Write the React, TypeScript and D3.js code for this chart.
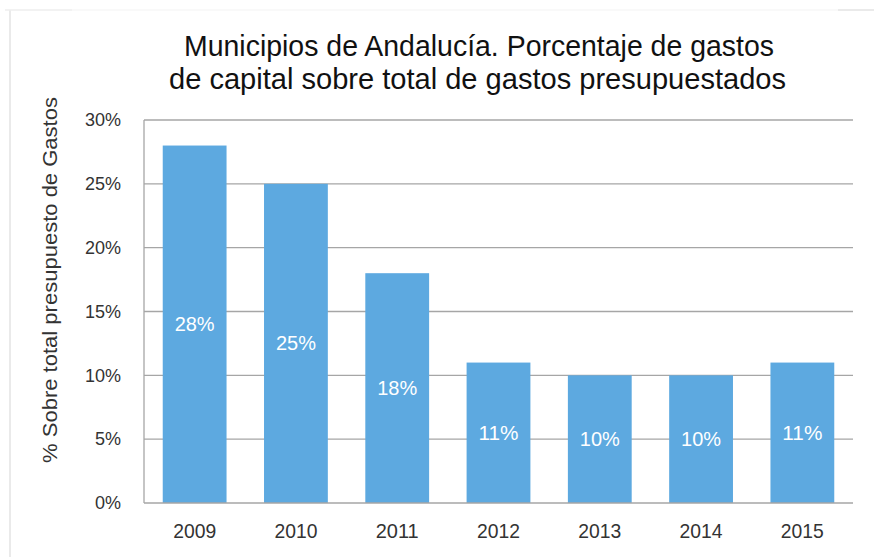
import React from "react";
import * as d3 from "d3";

const years = ["2009", "2010", "2011", "2012", "2013", "2014", "2015"];
const values = [28, 25, 18, 11, 10, 10, 11];
const yTicks = [0, 5, 10, 15, 20, 25, 30];
const titleLines = [
  "Municipios de Andalucía. Porcentaje de gastos",
  "de capital sobre total de gastos presupuestados",
];
const yLabel = "% Sobre total presupuesto de Gastos";

const W = 874;
const H = 557;
const FONT = "'Liberation Sans', Arial, sans-serif";

export default function App() {
  const left = 144, right = 853, top = 120, bottom = 503;
  const x = d3.scaleBand<string>().domain(years).range([left, right]).paddingInner(0.37).paddingOuter(0.185);
  const y = d3.scaleLinear().domain([0, 30]).range([bottom, top]);
  const barColor = "#5DA9E0";
  const gridColor = "#a6a6a6";

  return (
    <svg width={W} height={H} style={{ position: "absolute", left: 0, top: 0, background: "#fff" }} fontFamily={FONT}>
      {/* faint outer frame */}
      <line x1={10} y1={10} x2={10} y2={H} stroke="#e3e3e3" strokeWidth={1.5} />
      <line x1={5} y1={10} x2={72} y2={10} stroke="#eeeeee" strokeWidth={1.5} />
      <line x1={72} y1={10} x2={838} y2={10} stroke="#f7f7f7" strokeWidth={1.5} />
      <line x1={838} y1={10} x2={W} y2={10} stroke="#e3e3e3" strokeWidth={1.5} />

      {/* title */}
      <text x={479} y={56} textAnchor="middle" fontSize={30} fill="#111" textLength={590} lengthAdjust="spacingAndGlyphs">
        {titleLines[0]}
      </text>
      <text x={477.5} y={89} textAnchor="middle" fontSize={30} fill="#111" textLength={617} lengthAdjust="spacingAndGlyphs">
        {titleLines[1]}
      </text>

      {/* gridlines */}
      {yTicks.filter((t) => t > 0).map((t) => (
        <line key={t} x1={left} x2={right} y1={y(t)} y2={y(t)} stroke={gridColor} strokeWidth={1.3} />
      ))}

      {/* bars */}
      {years.map((yr, i) => (
        <rect key={yr} x={x(yr)} y={y(values[i])} width={x.bandwidth()} height={bottom - y(values[i])} fill={barColor} />
      ))}

      {/* axes */}
      <line x1={left} x2={left} y1={top} y2={bottom} stroke={gridColor} strokeWidth={1.3} />
      <line x1={left} x2={right} y1={bottom} y2={bottom} stroke={gridColor} strokeWidth={1.3} />

      {/* value labels */}
      {years.map((yr, i) => (
        <text
          key={yr}
          x={(x(yr) as number) + x.bandwidth() / 2}
          y={(y(values[i]) + bottom) / 2}
          dy="0.35em"
          textAnchor="middle"
          fontSize={20}
          fill="#fff"
          textLength={40}
          lengthAdjust="spacingAndGlyphs"
        >
          {values[i]}%
        </text>
      ))}

      {/* y tick labels */}
      {yTicks.map((t) => (
        <text key={t} x={121} y={y(t)} dy="0.35em" textAnchor="end" fontSize={18} fill="#333">
          {t}%
        </text>
      ))}

      {/* x tick labels */}
      {years.map((yr) => (
        <text
          key={yr}
          x={(x(yr) as number) + x.bandwidth() / 2}
          y={531}
          dy="0.35em"
          textAnchor="middle"
          fontSize={21}
          fill="#333"
          textLength={43}
          lengthAdjust="spacingAndGlyphs"
        >
          {yr}
        </text>
      ))}

      {/* y axis label */}
      <text
        transform={`translate(50, 280) rotate(-90)`}
        textAnchor="middle"
        dy="0.35em"
        fontSize={21}
        fill="#333"
        textLength={366}
        lengthAdjust="spacingAndGlyphs"
      >
        {yLabel}
      </text>
    </svg>
  );
}
